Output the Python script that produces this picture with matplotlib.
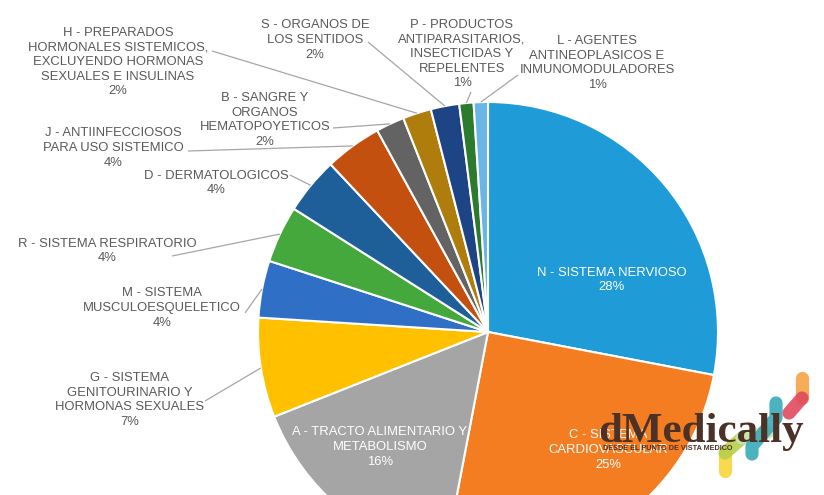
import numpy as np
import matplotlib.pyplot as plt

# ATC groups, clockwise from the top
labels = [
    "N - SISTEMA NERVIOSO",
    "C - SISTEMA\nCARDIOVASCULAR",
    "A - TRACTO ALIMENTARIO Y\nMETABOLISMO",
    "G - SISTEMA\nGENITOURINARIO Y\nHORMONAS SEXUALES",
    "M - SISTEMA\nMUSCULOESQUELETICO",
    "R - SISTEMA RESPIRATORIO",
    "D - DERMATOLOGICOS",
    "J - ANTIINFECCIOSOS\nPARA USO SISTEMICO",
    "B - SANGRE Y\nORGANOS\nHEMATOPOYETICOS",
    "H - PREPARADOS\nHORMONALES SISTEMICOS,\nEXCLUYENDO HORMONAS\nSEXUALES E INSULINAS",
    "S - ORGANOS DE\nLOS SENTIDOS",
    "P - PRODUCTOS\nANTIPARASITARIOS,\nINSECTICIDAS Y\nREPELENTES",
    "L - AGENTES\nANTINEOPLASICOS E\nINMUNOMODULADORES",
]
percent = [28, 25, 16, 7, 4, 4, 4, 4, 2, 2, 2, 1, 1]
colors = ["#1F9BD7", "#F47D22", "#A5A5A5", "#FFC000", "#2F6FC6", "#45A83C",
          "#1E5F99", "#C4500F", "#636363", "#AE7D0C", "#1D4585", "#2D7A2F", "#6BB5E6"]

H = 495
def py(y):
    return H - y

# label centres and leader start points (pixels, y from top); None = inside
label_pos = [(612, 280), (608, 450), (380, 447), (130, 400), (162, 308), (107, 251),
             (216, 183), (113, 148), (265, 120), (118, 62), (315, 40), (462, 54), (597, 63)]
anchors = [None, None, None, (205, 401), (245, 313), (172, 256), (290, 175),
           (188, 151), (333, 128), (212, 51), (368, 42), (471, 92), (518, 75)]

cx, cy, r = 488, py(332), 230

fig = plt.figure(figsize=(8.24, 4.95), dpi=100)
ax = fig.add_axes([0, 0, 1, 1])
wedges, _ = ax.pie(percent, colors=colors, startangle=90, counterclock=False,
                   center=(cx, cy), radius=r,
                   wedgeprops=dict(edgecolor="white", linewidth=1.5))
ax.set_xlim(0, 824)
ax.set_ylim(0, H)
ax.set_aspect("equal")
ax.axis("off")

for w, lab, p, pos, anc in zip(wedges, labels, percent, label_pos, anchors):
    txt = f"{lab}\n{p}%"
    col = "white" if anc is None else "#595959"
    ax.text(pos[0], py(pos[1]), txt, ha="center", va="center", fontsize=9.4,
            color=col, family="Liberation Sans", linespacing=1.3)
    if anc is None:
        continue
    mid = np.deg2rad((w.theta1 + w.theta2) / 2)
    rx, ry = cx + r * np.cos(mid), cy + r * np.sin(mid)
    ax.plot([anc[0], rx], [py(anc[1]), ry], color="#A6A6A6", lw=0.9,
            solid_capstyle="butt", zorder=1)

# dMedically watermark
strokes = [([(725, 471), (725, 453)], "#F9D63C"),
           ([(725, 453), (742, 438)], "#B7CF4A"),
           ([(742, 438), (768, 432)], "#CFE3B0"),
           ([(776, 403), (776, 418), (752, 446), (752, 454)], "#3AAAB8"),
           ([(802, 378), (802, 398)], "#F7A445"),
           ([(802, 398), (789, 413)], "#E04B5E")]
for pts, c in strokes:
    xs = [p[0] for p in pts]
    ys = [py(p[1]) for p in pts]
    ax.plot(xs, ys, color=c, lw=9.5, alpha=0.9, solid_capstyle="round",
            solid_joinstyle="round", zorder=3)
ax.text(598, py(442), "dMedically", family="Liberation Serif", fontweight="bold",
        fontsize=31, color="#4B3126", ha="left", va="baseline", zorder=4)
ax.text(603, py(449), "DESDE EL PUNTO DE VISTA MEDICO", family="Liberation Sans",
        fontweight="bold", fontsize=5.2, color="#4B3126", ha="left", va="center",
        zorder=4)

fig.savefig("out.png", dpi=100)
